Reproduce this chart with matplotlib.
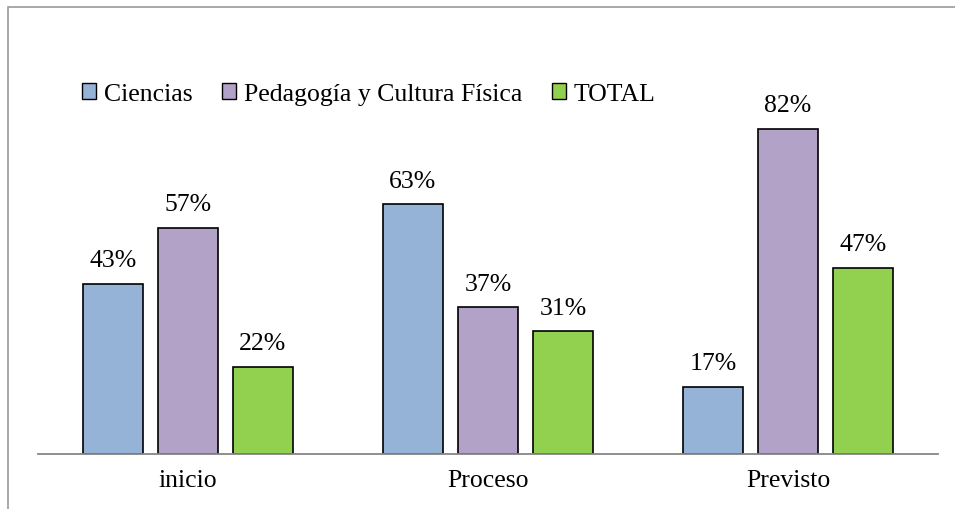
import numpy as np
import matplotlib
matplotlib.use("Agg")
import matplotlib.pyplot as plt
from matplotlib.patches import Patch, Rectangle

plt.rcParams["font.family"] = ["Liberation Serif", "DejaVu Serif"]
fontsize = 18.5

### Data
categorias = ["inicio", "Proceso", "Previsto"]
series = ["Ciencias", "Pedagogía y Cultura Física", "TOTAL"]
ciencias = [43, 63, 17]
pedagogia = [57, 37, 82]
total = [22, 31, 47]
colores = ["#95B3D7", "#B3A2C7", "#92D050"]

W, H = 955, 510
fig = plt.figure(figsize=(W / 100, H / 100), dpi=100)
ax = fig.add_axes([38 / W, (H - 455) / H, 900 / W, 396.5 / H])

x = np.arange(len(categorias))
ancho = 0.2
paso = 0.25
valores = [ciencias, pedagogia, total]
for k, (vals, col) in enumerate(zip(valores, colores)):
	pos = x + (k - 1) * paso
	barras = ax.bar(pos, vals, ancho, color=col, edgecolor="black", linewidth=1.2, zorder=2)
	for b, v in zip(barras, vals):
		ax.annotate("%d%%" % v, (b.get_x() + b.get_width() / 2, v), xytext=(0, 9),
			textcoords="offset points", ha="center", va="bottom", fontsize=fontsize)

ax.set_xlim(-0.5, 2.5)
ax.set_ylim(0, 100)
ax.set_xticks(x)
ax.set_xticklabels(categorias, fontsize=fontsize)
ax.tick_params(axis="x", length=0, pad=11)
ax.set_yticks([])
for s in ["left", "right", "top"]:
	ax.spines[s].set_visible(False)
ax.spines["bottom"].set_color("#868686")
ax.spines["bottom"].set_linewidth(1.3)
ax.spines["bottom"].set_zorder(3)

handles = [Patch(facecolor=c, edgecolor="black", linewidth=1.0) for c in colores]
fig.legend(handles, series, loc="center left", bbox_to_anchor=(72 / W, 1 - 95 / H),
	ncol=3, frameon=False, fontsize=fontsize, handlelength=0.55, handleheight=0.55,
	handletextpad=0.3, columnspacing=1.15, borderaxespad=0)

# cropped outer frame of the original chart
fig.patches.append(Rectangle((8 / W, -0.1), 1.2, 1 - 8 / H + 0.1, transform=fig.transFigure,
	fill=False, edgecolor="#9A9A9A", linewidth=1.2))

plt.savefig("out.png", dpi=100)
